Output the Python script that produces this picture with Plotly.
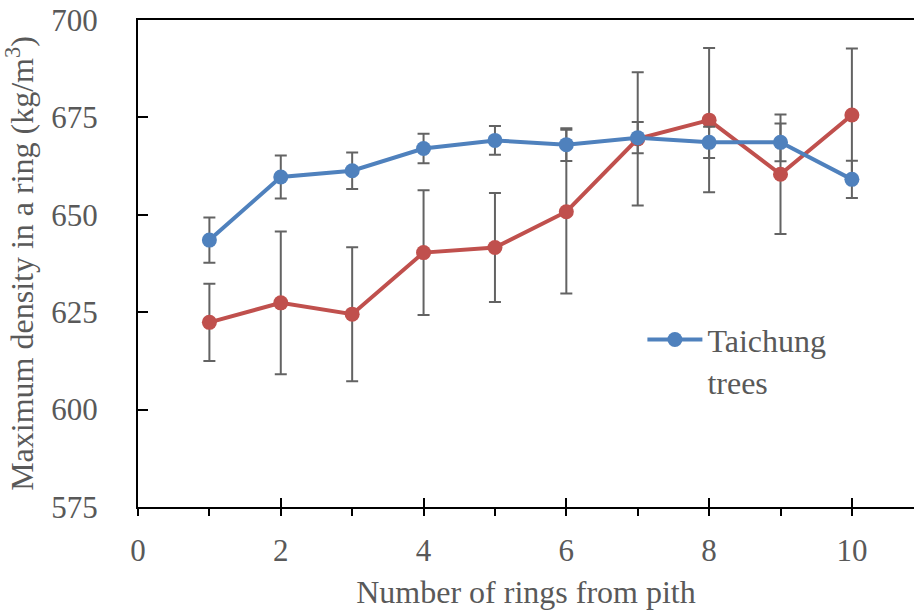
import plotly.graph_objects as go

rings = [1, 2, 3, 4, 5, 6, 7, 8, 9, 10]
taichung = [643.5, 659.7, 661.3, 667.0, 669.1, 668.0, 669.8, 668.6, 668.6, 659.1]
taichung_err = [5.8, 5.5, 4.7, 3.8, 3.7, 4.2, 4.0, 4.0, 4.85, 4.8]
other = [622.4, 627.4, 624.5, 640.3, 641.6, 650.8, 669.5, 674.3, 660.4, 675.6]
other_err = [9.9, 18.3, 17.2, 16.0, 14.0, 21.0, 17.1, 18.5, 15.35, 17.1]

FONT = "Times New Roman, Liberation Serif, serif"
TXT = "#595959"
ERR = "#636363"

fig = go.Figure()
fig.add_trace(go.Scatter(
    x=rings, y=other, mode="lines+markers", showlegend=False,
    line=dict(color="#C0504D", width=4), marker=dict(size=15, color="#C0504D"),
    error_y=dict(type="data", array=other_err, color=ERR, thickness=2, width=6),
))
fig.add_trace(go.Scatter(
    x=rings, y=taichung, mode="lines+markers", name="Taichung<br>trees",
    line=dict(color="#4F81BD", width=4), marker=dict(size=15, color="#4F81BD"),
    error_y=dict(type="data", array=taichung_err, color=ERR, thickness=2, width=6),
))

fig.update_layout(
    width=914, height=610,
    margin=dict(l=138, r=0, t=20, b=103),
    plot_bgcolor="white", paper_bgcolor="white",
    font=dict(family=FONT, size=31, color=TXT),
    legend=dict(x=0.65, y=0.40, xanchor="left", yanchor="top", valign="top",
                bgcolor="rgba(0,0,0,0)", font=dict(size=32, color=TXT),
                itemwidth=55),
    xaxis=dict(range=[0, 10.87], tickvals=[0, 2, 4, 6, 8, 10],
               showgrid=False, zeroline=False, showline=True, linecolor="black",
               linewidth=2, mirror=True, ticks="outside", ticklen=7, tickwidth=1.5,
               tickcolor="black", ticklabelstandoff=8,
               minor=dict(dtick=1, ticks="outside", ticklen=7, tickwidth=1.5, tickcolor="black"),
               title=dict(text="Number of rings from pith", standoff=16, font=dict(size=32)),
               tickfont=dict(size=31)),
    xaxis2=dict(range=[0, 10.87], overlaying="x", side="bottom", tickvals=[0, 2, 4, 6, 8, 10],
                showticklabels=False, ticks="inside", ticklen=9, tickwidth=1.5, tickcolor="black",
                showgrid=False, zeroline=False, showline=False),
    yaxis=dict(range=[575, 700], dtick=25, showgrid=False, zeroline=False,
               showline=True, linecolor="black", linewidth=2, ticks="inside",
               ticklen=10, tickwidth=1.5, tickcolor="black", ticklabelstandoff=32,
               title=dict(text="Maximum density in a ring (kg/m<sup>3</sup>)", standoff=10,
                          font=dict(size=32)),
               tickfont=dict(size=31)),
)
fig.add_trace(go.Scatter(x=[None], y=[None], xaxis="x2", showlegend=False, hoverinfo="skip"))

fig.write_html("out.html")
